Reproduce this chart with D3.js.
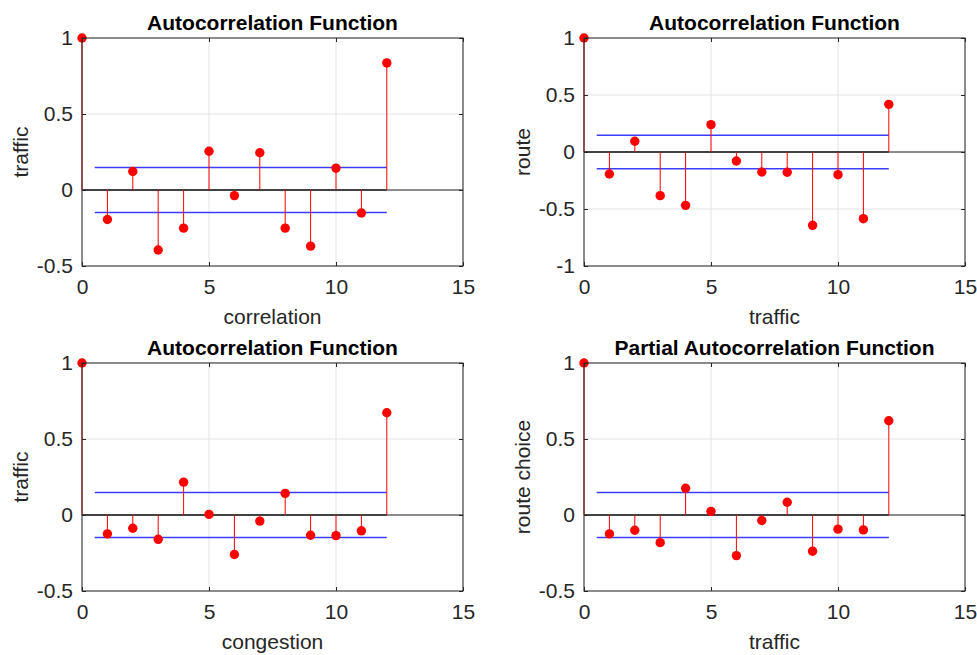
<!DOCTYPE html>
<html lang="en">
  <head>
    <meta charset="utf-8">
    <title>ACF panels</title>
    <script src="https://d3js.org/d3.v7.min.js"></script>
    <style>
      body { margin: 0; background: #fff; }
      text { font-family: "Liberation Sans", Arial, sans-serif; }
    </style>
  </head>

  <body>

  <script>

// values

  var lags = [0, 1, 2, 3, 4, 5, 6, 7, 8, 9, 10, 11, 12];

  var acfTraffic    = [1, -0.194, 0.122, -0.395, -0.251, 0.255, -0.037, 0.245, -0.251, -0.369, 0.144, -0.151, 0.836];
  var acfRoute      = [1, -0.193, 0.094, -0.383, -0.468, 0.240, -0.079, -0.175, -0.178, -0.643, -0.199, -0.585, 0.418];
  var acfCongestion = [1, -0.124, -0.087, -0.160, 0.216, 0.004, -0.260, -0.040, 0.142, -0.133, -0.136, -0.104, 0.673];
  var pacfChoice    = [1, -0.124, -0.100, -0.182, 0.176, 0.024, -0.267, -0.036, 0.084, -0.238, -0.093, -0.098, 0.620];

  var bound = 0.148;             // confidence bounds
  var boundFrom = 0.5, boundTo = 12;

  var titles  = ["Autocorrelation Function", "Autocorrelation Function",
                 "Autocorrelation Function", "Partial Autocorrelation Function"];
  var xLabels = ["correlation", "traffic", "congestion", "traffic"];
  var yLabels = ["traffic", "route", "traffic", "route choice"];
  var yDomains = [[-0.5, 1], [-1, 1], [-0.5, 1], [-0.5, 1]];
  var xTicks = [0, 5, 10, 15];
  var yTickSets = [[-0.5, 0, 0.5, 1], [-1, -0.5, 0, 0.5, 1], [-0.5, 0, 0.5, 1], [-0.5, 0, 0.5, 1]];
  var series = [acfTraffic, acfRoute, acfCongestion, pacfChoice];

  var w = 977, h = 655;
  var pw = 381, ph = 228;
  var origins = [[82, 38], [584, 38], [82, 363], [584, 363]];

  var fmt = d => String(d);   // plain hyphen minus, like the original

  var svg = d3.select("body")
    .append("svg")
      .attr("width", w)
      .attr("height", h);

  series.forEach(function (vals, k) {

    var g = svg.append("g")
        .attr("transform", "translate(" + origins[k][0] + "," + origins[k][1] + ")");

    var x = d3.scaleLinear().domain([0, 15]).range([0, pw]);
    var y = d3.scaleLinear().domain(yDomains[k]).range([ph, 0]);
    var yTicks = yTickSets[k];

    // grid
    g.selectAll(".gx").data(xTicks).enter().append("line")
        .attr("x1", d => x(d)).attr("x2", d => x(d))
        .attr("y1", 0).attr("y2", ph)
        .attr("stroke", "#e3e3e3");
    g.selectAll(".gy").data(yTicks).enter().append("line")
        .attr("y1", d => y(d)).attr("y2", d => y(d))
        .attr("x1", 0).attr("x2", pw)
        .attr("stroke", "#e3e3e3");

    // zero line across the axes, and stem baseline
    g.append("line")
        .attr("x1", 0).attr("x2", pw)
        .attr("y1", y(0)).attr("y2", y(0))
        .attr("stroke", "#6a6a6a").attr("stroke-width", 1.5);
    g.append("line")
        .attr("x1", x(0)).attr("x2", x(12))
        .attr("y1", y(0)).attr("y2", y(0))
        .attr("stroke", "#2a2a2a").attr("stroke-width", 1.5);

    // confidence bounds
    [bound, -bound].forEach(function (b) {
      g.append("line")
          .attr("x1", x(boundFrom)).attr("x2", x(boundTo))
          .attr("y1", y(b)).attr("y2", y(b))
          .attr("stroke", "#3c3cff").attr("stroke-width", 1.5);
    });

    // stems
    g.selectAll(".stem").data(vals).enter().append("line")
        .attr("x1", (d, i) => x(lags[i])).attr("x2", (d, i) => x(lags[i]))
        .attr("y1", y(0)).attr("y2", d => y(d))
        .attr("stroke", "#ff0000").attr("stroke-width", 1);
    g.selectAll(".dot").data(vals).enter().append("circle")
        .attr("cx", (d, i) => x(lags[i]))
        .attr("cy", d => y(d))
        .attr("r", 4.7)
        .attr("fill", "#ff0000");

    // box and inward ticks
    g.append("rect")
        .attr("width", pw).attr("height", ph)
        .attr("fill", "none").attr("stroke", "#262626").attr("stroke-width", 1);

    var axB = g.append("g").attr("transform", "translate(0," + ph + ")")
        .call(d3.axisBottom(x).tickValues(xTicks).tickSizeInner(-4).tickSizeOuter(0).tickPadding(13)
          .tickFormat(fmt));
    var axT = g.append("g")
        .call(d3.axisTop(x).tickValues(xTicks).tickSizeInner(-4).tickSizeOuter(0).tickFormat(""));
    var axL = g.append("g")
        .call(d3.axisLeft(y).tickValues(yTicks).tickSizeInner(-4).tickSizeOuter(0).tickPadding(9)
          .tickFormat(fmt));
    var axR = g.append("g").attr("transform", "translate(" + pw + ",0)")
        .call(d3.axisRight(y).tickValues(yTicks).tickSizeInner(-4).tickSizeOuter(0).tickFormat(""));

    [axB, axT, axL, axR].forEach(function (a) {
      a.select(".domain").remove();
      a.selectAll("line").attr("stroke", "#262626");
      a.selectAll("text")
          .attr("fill", "#262626")
          .style("font-size", "21px")
          .style("font-family", "'Liberation Sans', Arial, sans-serif");
    });

    // title and labels
    g.append("text")
        .attr("x", pw / 2).attr("y", -8)
        .attr("text-anchor", "middle")
        .style("font-size", "21px").style("font-weight", "bold")
        .attr("fill", "#000")
        .text(titles[k]);

    g.append("text")
        .attr("x", pw / 2).attr("y", ph + 58)
        .attr("text-anchor", "middle")
        .style("font-size", "21px")
        .attr("fill", "#262626")
        .text(xLabels[k]);

    g.append("text")
        .attr("transform", "translate(-54," + (ph / 2) + ") rotate(-90)")
        .attr("text-anchor", "middle")
        .style("font-size", "21px")
        .attr("fill", "#262626")
        .text(yLabels[k]);
  });

  </script>

  </body>

</html>
